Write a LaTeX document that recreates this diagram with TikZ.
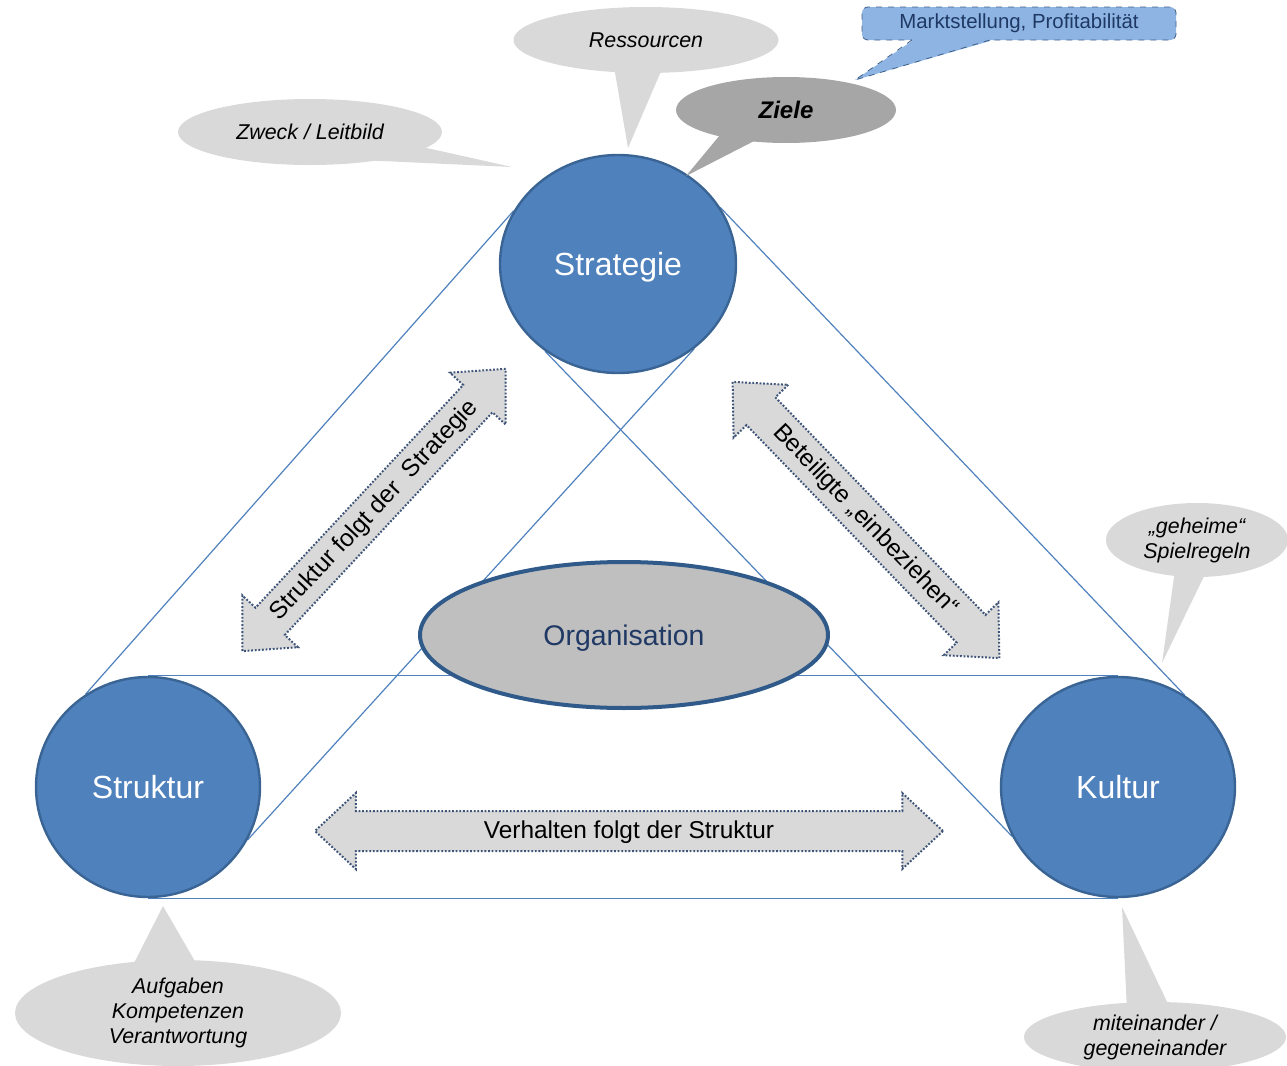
\documentclass[tikz,border=0pt]{standalone}
\usepackage{fontspec}
\setmainfont{Liberation Sans}
\usetikzlibrary{shapes.geometric,shapes.arrows,calc,backgrounds}
\definecolor{pillarblue}{HTML}{4F81BD}
\definecolor{pillarline}{HTML}{3A6494}
\definecolor{coregray}{HTML}{BFBFBF}
\definecolor{coreline}{HTML}{2F5A8A}
\definecolor{navytext}{HTML}{1F3864}
\definecolor{bubblegray}{HTML}{D9D9D9}
\definecolor{zielgray}{HTML}{A6A6A6}
\definecolor{tagblue}{HTML}{8DB4E2}
\definecolor{tagline}{HTML}{3F5F88}
\definecolor{dotline}{HTML}{3D5478}
\tikzset{
  pillar/.style={
    ellipse,
    draw=pillarline,
    line width=1.2pt,
    fill=pillarblue,
    text=white,
    inner sep=0pt,
    text depth=0pt,
    font=\fontsize{16}{19}\selectfont
  },
  core/.style={
    ellipse,
    draw=coreline,
    line width=2pt,
    fill=coregray,
    text=navytext,
    text depth=0pt,
    minimum width=204pt,
    minimum height=73pt,
    font=\fontsize{14.2}{17}\selectfont
  },
  bubble/.style={
    ellipse,
    fill=bubblegray,
    inner sep=0pt,
    align=center,
    font=\fontsize{10.7}{12.5}\selectfont\itshape
  },
  darkbubble/.style={
    bubble,
    fill=zielgray,
    font=\fontsize{12}{14}\selectfont\bfseries\itshape
  },
  bubbletail/.style={fill=bubblegray},
  tagbox/.style={
    rectangle,
    rounded corners=3pt,
    draw=tagline,
    dashed,
    fill=tagblue,
    text=navytext,
    minimum width=157pt,
    minimum height=16.5pt,
    inner sep=0pt,
    font=\fontsize{10.2}{12}\selectfont
  },
  twoway/.style={
    double arrow,
    draw=dotline,
    dash pattern=on 0.9pt off 0.9pt,
    line width=1pt,
    fill=bubblegray,
    double arrow head extend=9pt,
    double arrow tip angle=86,
    inner xsep=0pt,
    inner ysep=4pt,
    text height=9pt,
    text depth=2pt,
    font=\fontsize{12.2}{14}\selectfont
  },
  frameline/.style={
    draw=pillarblue,
    line width=0.6pt
  }
}

\begin{document}
\begin{tikzpicture}[x=0.5pt,y=-0.5pt]
  \useasboundingbox (0,0) rectangle (1287,1066);

  % the three pillars and the centre
  \node[pillar, minimum width=118pt, minimum height=109pt] (strat) at (618,264) {Strategie};
  \node[pillar, minimum width=112pt, minimum height=110pt] (struk) at (148,787) {Struktur};
  \node[pillar, minimum width=117pt, minimum height=110pt] (kult) at (1118,787) {Kultur};
  \node[core] (org) at (624,635) {Organisation};

  % triangle lines behind everything
  \begin{scope}[on background layer]
    \draw[frameline] (strat.153) -- (struk.124);
    \draw[frameline] (strat.29) -- (kult.54);
    \draw[frameline] (struk.270) -- (kult.270);
    \draw[frameline] (struk.90) -- (kult.90);
    \draw[frameline] (strat.230) -- (kult.205);
    \draw[frameline] (strat.312) -- (struk.332);
  \end{scope}

  % two-way arrows
  \node[twoway, minimum height=314pt] (behav) at (629,831) {Verhalten folgt der Struktur};
  \node[twoway, minimum height=193pt, rotate=47] (follow) at (374,510) {Struktur folgt der\ \ Strategie};
  \node[twoway, minimum height=192pt, rotate=-46] (involve) at (866,520) {Beteiligte „einbeziehen“};

  % speech bubbles
  \fill[bubbletail] (612,55) -- (628,148) -- (668,55) -- cycle;
  \node[bubble, minimum width=132.5pt, minimum height=33pt] (ress) at (646,40) {Ressourcen};

  \fill[bubbletail] (400,142) -- (512,167) -- (360,160) -- cycle;
  \node[bubble, minimum width=132pt, minimum height=33pt] (zweck) at (310,132) {Zweck / Leitbild};

  \fill[fill=zielgray] (720,135) -- (686,176) -- (760,138) -- cycle;
  \node[darkbubble, minimum width=110pt, minimum height=33pt] (ziele) at (786,110) {Ziele};

  \node[tagbox] (markt) at (1019,23.5) {Marktstellung, Profitabilität};
  \fill[fill=tagblue] (912,36) -- (912,41) -- (855,80) -- (990,41) -- (990,36) -- cycle;
  \draw[draw=tagline, dashed] (912,40) -- (855,80) -- (990,40);

  \fill[bubbletail] (1175,570) -- (1162,663) -- (1207,570) -- cycle;
  \node[bubble, minimum width=91pt, minimum height=37pt] (regeln) at (1197,540) {„geheime“\\Spielregeln};

  \fill[bubbletail] (128,975) -- (163,906) -- (200,970) -- cycle;
  \node[bubble, minimum width=163pt, minimum height=53pt] (aufg) at (178,1013) {Aufgaben\\Kompetenzen\\Verantwortung};

  \fill[bubbletail] (1127,1010) -- (1122,907) -- (1170,1008) -- cycle;
  \node[bubble, minimum width=131pt, minimum height=35pt] (mitein) at (1155,1037) {miteinander /\\gegeneinander};
\end{tikzpicture}
\end{document}
